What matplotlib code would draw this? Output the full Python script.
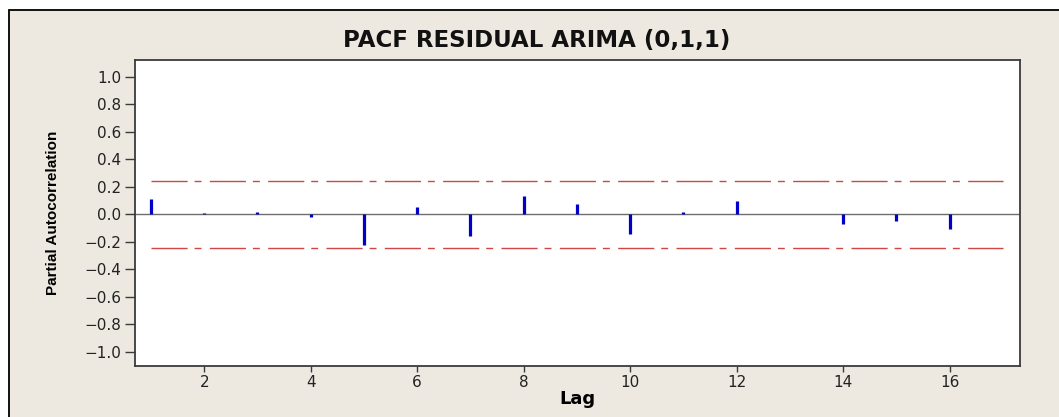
import numpy as np
import matplotlib
matplotlib.use("Agg")
from matplotlib import pyplot as plt
from matplotlib.patches import Rectangle

# PACF dei residui ARIMA(0,1,1)
lags = np.arange(1, 17)
pacf = [0.11, 0.008, 0.018, -0.02, -0.225, 0.05, -0.16, 0.135,
        0.075, -0.145, 0.015, 0.095, 0.003, -0.07, -0.045, -0.11]
limit = 0.245  # limiti di significativita'
yticks = [-1.0, -0.8, -0.6, -0.4, -0.2, 0.0, 0.2, 0.4, 0.6, 0.8, 1.0]
xticks = [2, 4, 6, 8, 10, 12, 14, 16]

plt.rcParams['lines.scale_dashes'] = False

fig = plt.figure(figsize=(10.59, 4.17), dpi=100, facecolor='white')

# pannello beige con bordo (stile Minitab)
panel = Rectangle((8.5 / 1059, -0.05), 1.2, 1 - 10 / 417 + 0.05,
                  transform=fig.transFigure, facecolor='#EDE9E1',
                  edgecolor='black', linewidth=1.3, zorder=-5)
fig.patches.append(panel)

ax = fig.add_axes([0.1275, 0.123, 0.836, 0.7326], zorder=2)
ax.set_facecolor('white')

ax.vlines(lags, 0, pacf, colors='#0000C8', linewidth=2.3, zorder=3)
ax.axhline(0, color='#6E6E6E', linewidth=1.0, zorder=2)
for lv in (limit, -limit):
    ax.plot([lags[0], lags[-1] + 1], [lv, lv], color='#D04545', linewidth=1.0,
            linestyle=(0, (26, 5, 5, 6)), zorder=2)

ax.set_xlim(0.7, 17.33)
ax.set_ylim(-1.1, 1.12)
ax.set_xticks(xticks)
ax.set_yticks(yticks)
ax.set_yticklabels([f"{v:.1f}".replace('-', '\u2212') for v in yticks])

for side in ['left', 'right', 'top', 'bottom']:
    ax.spines[side].set_color('#3A3A3A')
    ax.spines[side].set_linewidth(1.3)

ax.tick_params(axis='y', length=7, width=1, color='#3A3A3A', pad=3,
               labelsize=11, labelcolor='#222222')
ax.tick_params(axis='x', length=4, width=1, color='#3A3A3A', pad=3,
               labelsize=11, labelcolor='#222222')

ax.set_ylabel('Partial Autocorrelation', family='Liberation Sans',
              fontweight='bold', fontsize=11, va='center')
ax.yaxis.set_label_coords(-0.0926, 0.5)
ax.set_xlabel('Lag', fontweight='bold', fontsize=13, va='center')
ax.xaxis.set_label_coords(0.5, -0.109)

fig.text(537 / 1059, 1 - 40 / 417, 'PACF RESIDUAL ARIMA (0,1,1)',
         ha='center', va='center', fontweight='bold', fontsize=16.5,
         color='#111111')

fig.savefig('out.png', dpi=100, facecolor=fig.get_facecolor())
